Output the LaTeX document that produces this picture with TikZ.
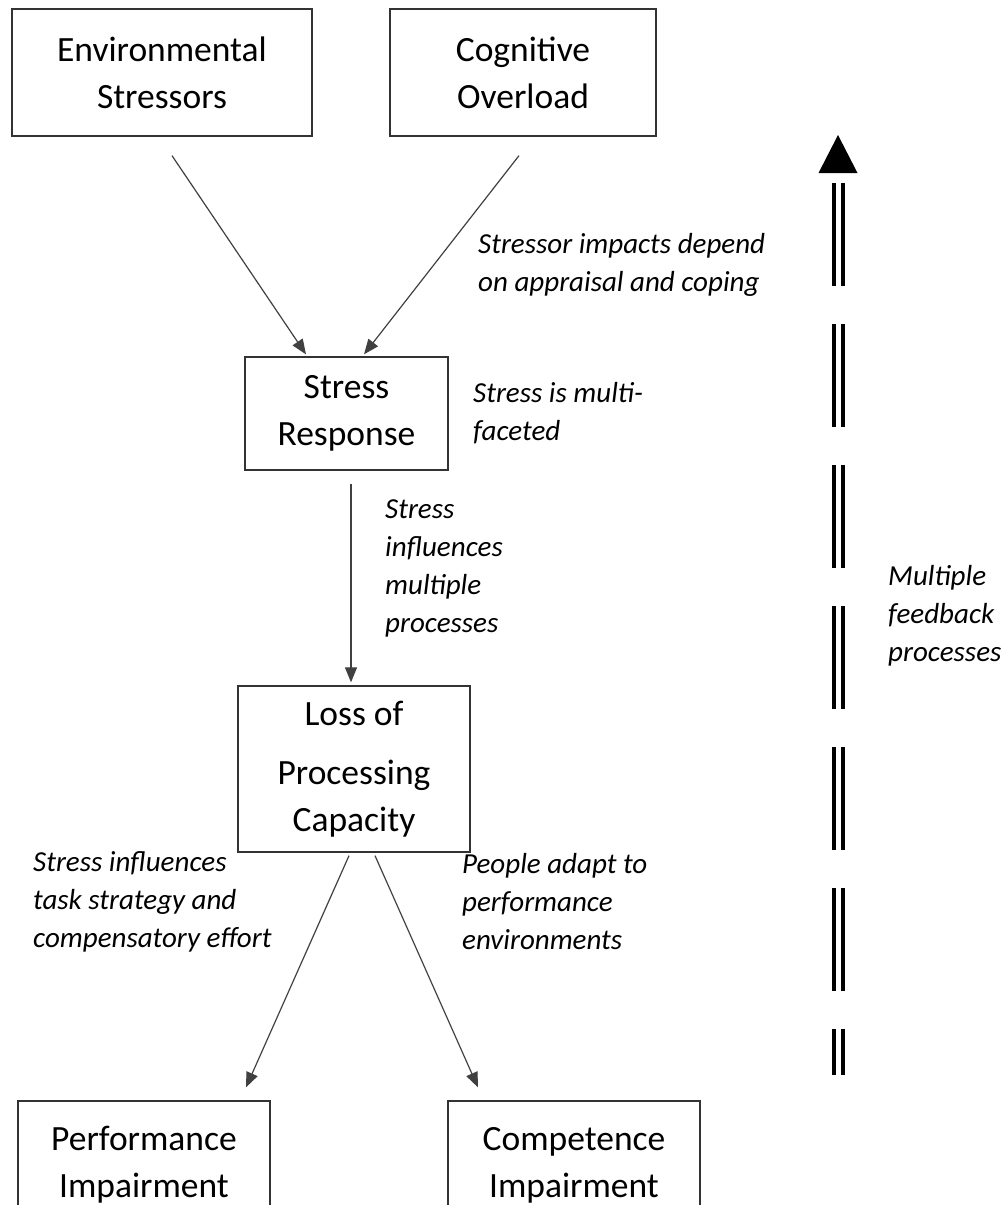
\documentclass[tikz,border=0pt]{standalone}
\usepackage{fontspec}
\setmainfont{Carlito}
\usetikzlibrary{arrows.meta,positioning}

\begin{document}
\begin{tikzpicture}[x=1pt,y=-1pt]
  \tikzset{box/.style = {shape=rectangle,draw=black!80,line width=1.3pt,align=center,inner sep=0pt,font=\fontsize{35.5}{47}\selectfont}}
  \tikzset{note/.style = {anchor=west,align=left,inner sep=0pt,font=\fontsize{29}{38}\selectfont\itshape}}
  \tikzset{link/.style = {draw=black!75,line width=1.2pt,-{Triangle[length=15pt,width=12pt]}}}
  \tikzset{feedback/.style = {draw=black,double=white,double distance=5pt,line width=4pt,dash pattern=on 103pt off 38pt}}
  \useasboundingbox (0,0) rectangle (1007,1205);

  % boxes
  \node[box,minimum width=300pt,minimum height=127pt] (env) at (162,72.5) {Environmental\\Stressors};
  \node[box,minimum width=266pt,minimum height=127pt] (cog) at (523,72.5) {Cognitive\\Overload};
  \node[box,minimum width=203pt,minimum height=113pt] (stress) at (346.5,413.5) {Stress\\Response};
  \node[box,minimum width=232pt,minimum height=166pt] (loss) at (354,769) {Loss of\\[12pt]Processing\\Capacity};
  \node[box,minimum width=252pt,minimum height=128pt] (perf) at (144,1165) {Performance\\Impairment};
  \node[box,minimum width=252pt,minimum height=128pt] (comp) at (574,1165) {Competence\\Impairment};

  % links
  \draw[link] ([xshift=10pt,yshift=-19pt]env.south) -- ([xshift=-40.5pt,yshift=2pt]stress.north);
  \draw[link] ([xshift=-4pt,yshift=-19pt]cog.south) -- ([xshift=17.5pt,yshift=2pt]stress.north);
  \draw[link] ([xshift=4.5pt,yshift=-13pt]stress.south) -- ([xshift=-3pt,yshift=3pt]loss.north);
  \draw[link] ([xshift=-5pt,yshift=-3pt]loss.south) -- ([xshift=102pt,yshift=13pt]perf.north);
  \draw[link] ([xshift=21pt,yshift=-3pt]loss.south) -- ([xshift=-96pt,yshift=13pt]comp.north);

  % notes
  \node[note] (n1) at (478,265) {Stressor impacts depend\\on appraisal and coping};
  \node[note] (n2) at (473,413) {Stress is multi-\\faceted};
  \node[note] (n3) at (385,568) {Stress\\influences\\multiple\\processes};
  \node[note] (n4) at (888,616) {Multiple\\feedback\\processes};
  \node[note] (n5) at (33,902) {Stress influences\\task strategy and\\compensatory effort};
  \node[note] (n6) at (462,902) {People adapt to\\performance\\environments};

  % feedback arrow
  \coordinate (fbtip) at (838,135);
  \coordinate (fbtop) at (838,183);
  \coordinate (fbbot) at (838,1075);
  \fill (fbtip) -- ++(19.5,38) -- ++(-39,0) -- cycle;
  \draw[feedback] (fbtop) -- (fbbot);
\end{tikzpicture}
\end{document}
